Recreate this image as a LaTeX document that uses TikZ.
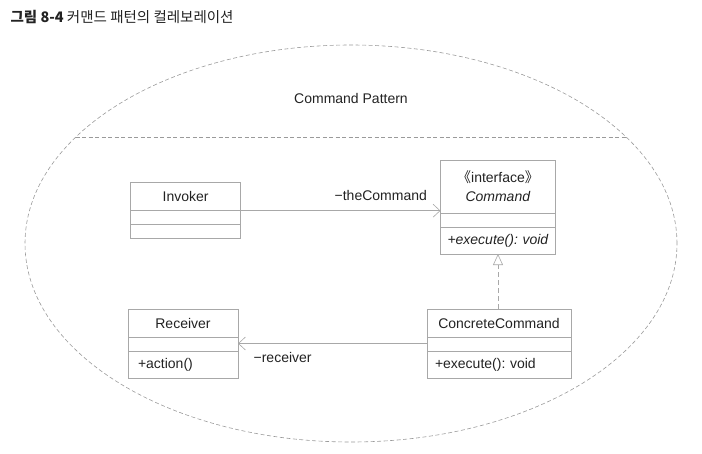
\documentclass[tikz,border=0pt]{standalone}
\usepackage{fontspec}
\setmainfont{Liberation Sans}
\newfontfamily\cjk{Noto Sans CJK KR}
\usepackage{xcolor}
\usetikzlibrary{arrows.meta,positioning,shapes.geometric,fit}
\frenchspacing

\definecolor{linegray}{HTML}{A8A8A8}
\definecolor{dashgray}{HTML}{9A9A9A}
\definecolor{textgray}{HTML}{222222}

\begin{document}
\begin{tikzpicture}[
  x=1pt, y=-1pt,
  every node/.style={font=\fontsize{14}{16}\selectfont, text=textgray},
  part/.style={rectangle, draw=linegray, line width=0.6pt, inner sep=0pt,
    outer sep=0pt, minimum width=110pt, align=center},
  namepart/.style={part, minimum height=28pt, anchor=north},
  slot/.style={part, minimum height=14pt},
  oppart/.style={part, minimum height=27pt, align=left},
  wrap/.style={inner sep=0pt, outer sep=0pt},
  assoc/.style={draw=linegray, line width=0.6pt,
    -{Straight Barb[length=7pt,width=13pt]}},
  gen/.style={draw=linegray, line width=0.6pt, dash pattern=on 5pt off 3pt,
    -{Triangle[open, length=11pt, width=10pt, fill=white]}},
  boundary/.style={draw=dashgray, line width=0.6pt, dash pattern=on 4pt off 2.5pt},
]
\useasboundingbox (0,0) rectangle (702,453);

% Title
\node[anchor=west, font=\cjk\fontsize{14.5}{17}\selectfont] (title) at (7,17)
  {\textbf{그림 8-4} 커맨드 패턴의 컬레보레이션};

% Pattern boundary
\node[ellipse, boundary, minimum width=652pt, minimum height=397pt,
      inner sep=0pt, outer sep=0pt] (pattern) at (351,243.5) {};
\coordinate (chordl) at (75.5,137);
\coordinate (chordr) at (626.5,137);
\draw[boundary] (chordl) -- (chordr);
\node (patname) at (351,98) {Command Pattern};

% Invoker
\node[namepart] at (185.7,182.7) (inv) {Invoker};
\node[slot, below=0pt of inv] (invattr) {};
\node[slot, below=0pt of invattr] (invops) {};
\node[wrap, fit=(inv)(invops)] (invoker) {};

% Command interface
\node[namepart, minimum width=115pt, minimum height=53pt, font=\fontsize{14}{19}\selectfont]
  at (498,160) (cmd) {{\cjk 《}interface{\cjk 》}\\\textit{Command}};
\node[slot, minimum width=115pt, below=0pt of cmd] (cmdattr) {};
\node[oppart, minimum width=115pt, text width=101pt, below=0pt of cmdattr] (cmdops)
  {\mbox{\textit{+execute(): void}}};
\node[wrap, fit=(cmd)(cmdops)] (command) {};

% Receiver
\node[namepart] at (183,309) (rcv) {Receiver};
\node[slot, below=0pt of rcv] (rcvattr) {};
\node[oppart, text width=90pt, below=0pt of rcvattr] (rcvops) {\mbox{+action()}};
\node[wrap, fit=(rcv)(rcvops)] (receiver) {};

% ConcreteCommand
\node[namepart, minimum width=144pt] at (499,309) (ccmd) {ConcreteCommand};
\node[slot, minimum width=144pt, below=0pt of ccmd] (ccmdattr) {};
\node[oppart, minimum width=144pt, text width=128pt, below=0pt of ccmdattr] (ccmdops)
  {\mbox{+execute(): void}};
\node[wrap, fit=(ccmd)(ccmdops)] (concrete) {};

% Connectors
\draw[assoc] (invoker.east) -- (invoker.east -| command.west)
  node[pos=1, anchor=base east, xshift=-10pt, yshift=10pt] (cmdrole) {−theCommand};
\draw[gen] (command.south |- concrete.north) -- (command.south);
\draw[assoc] (concrete.west) -- (concrete.west -| receiver.east)
  node[pos=1, anchor=base west, xshift=12pt, yshift=-19pt] (rcvrole) {−receiver};

\end{tikzpicture}
\end{document}
